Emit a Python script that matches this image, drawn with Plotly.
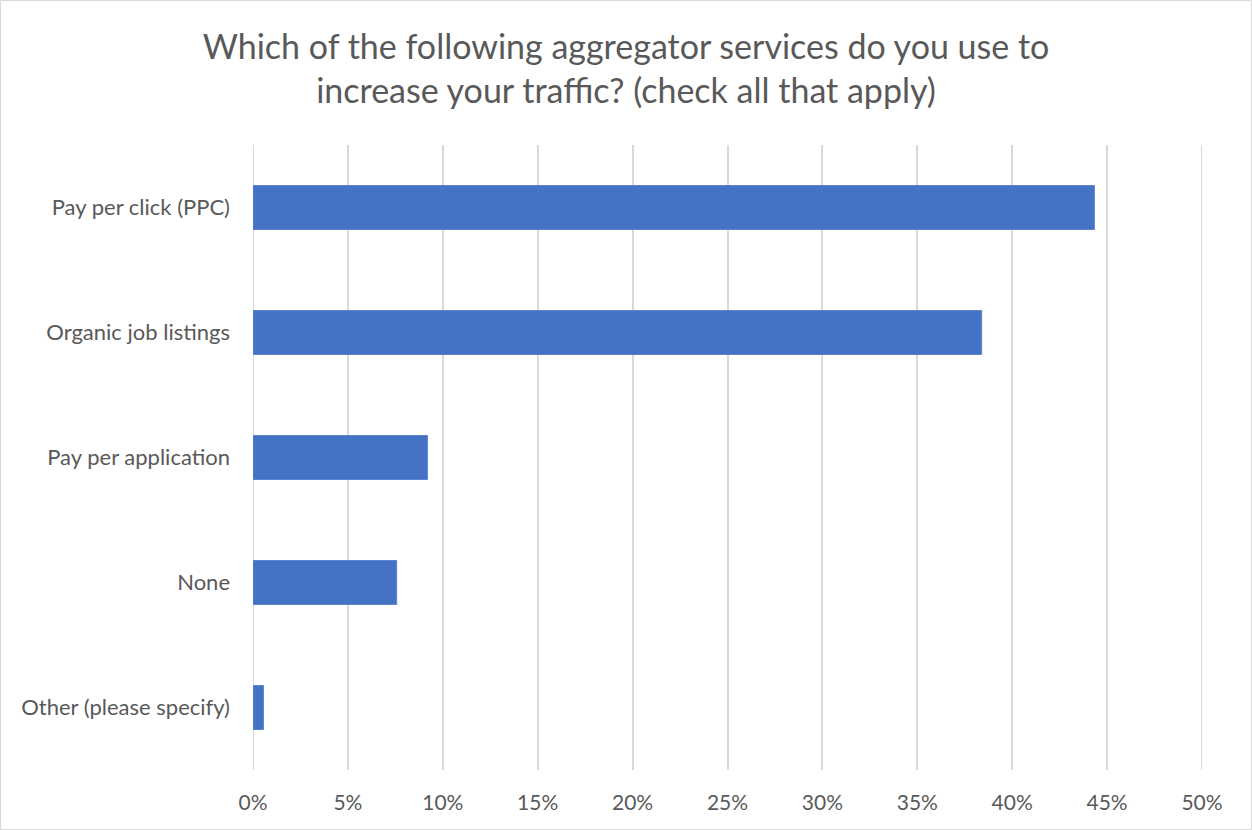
import plotly.graph_objects as go

# Survey responses (share of respondents)
categories = [
    "Pay per click (PPC)",
    "Organic job listings",
    "Pay per application",
    "None",
    "Other (please specify)",
]
shares = [0.4433, 0.3839, 0.0919, 0.0757, 0.0055]

x_ticks = [i * 0.05 for i in range(11)]
x_tick_labels = [f"{i * 5}%" for i in range(11)]

W, H = 1252, 830
ML, MR, MT, MB = 253, 50, 145, 60

FONT = "Lato, 'Open Sans', sans-serif"
GREY = "#595959"
GRID = "#d9d9d9"

fig = go.Figure(
    go.Bar(
        x=shares,
        y=categories,
        orientation="h",
        marker=dict(color="#4472c4", line=dict(color="#5b84cf", width=1)),
        width=0.352,
        hoverinfo="x+y",
    )
)

pw = W - ML - MR
ph = H - MT - MB

# grid lines at the two ends of the value axis
edge_lines = [
    dict(
        type="line",
        xref="x",
        yref="paper",
        x0=v,
        x1=v,
        y0=0,
        y1=1,
        line=dict(color=GRID, width=2),
        layer="below",
    )
    for v in (x_ticks[0], x_ticks[-1])
]

frame = dict(
    type="rect",
    xref="paper",
    yref="paper",
    x0=-(ML - 0.5) / pw,
    x1=1 + (MR - 0.5) / pw,
    y0=-(MB - 0.5) / ph,
    y1=1 + (MT - 0.5) / ph,
    line=dict(color=GRID, width=1),
    fillcolor="rgba(0,0,0,0)",
    layer="below",
)

fig.update_layout(
    width=W,
    height=H,
    margin=dict(l=ML, r=MR, t=MT, b=MB),
    paper_bgcolor="white",
    plot_bgcolor="white",
    showlegend=False,
    title=dict(
        text="Which of the following aggregator services do you use to<br>increase your traffic? (check all that apply)",
        x=0.5,
        xanchor="center",
        xref="container",
        yref="container",
        y=1 - 59 / H,
        yanchor="middle",
        font=dict(family=FONT, size=34, color=GREY),
    ),
    xaxis=dict(
        range=[0, 0.5],
        tickvals=x_ticks,
        ticktext=x_tick_labels,
        showgrid=True,
        gridcolor=GRID,
        gridwidth=2,
        zeroline=False,
        showline=False,
        ticks="",
        ticklabelstandoff=18,
        tickfont=dict(family=FONT, size=21, color=GREY),
        fixedrange=True,
    ),
    yaxis=dict(
        categoryorder="array",
        categoryarray=categories[::-1],
        showgrid=False,
        zeroline=False,
        showline=False,
        ticks="",
        ticklabelstandoff=22,
        tickfont=dict(family=FONT, size=22, color=GREY),
        fixedrange=True,
    ),
    shapes=edge_lines + [frame],
)

fig.write_html("out.html", config={"displayModeBar": False})
